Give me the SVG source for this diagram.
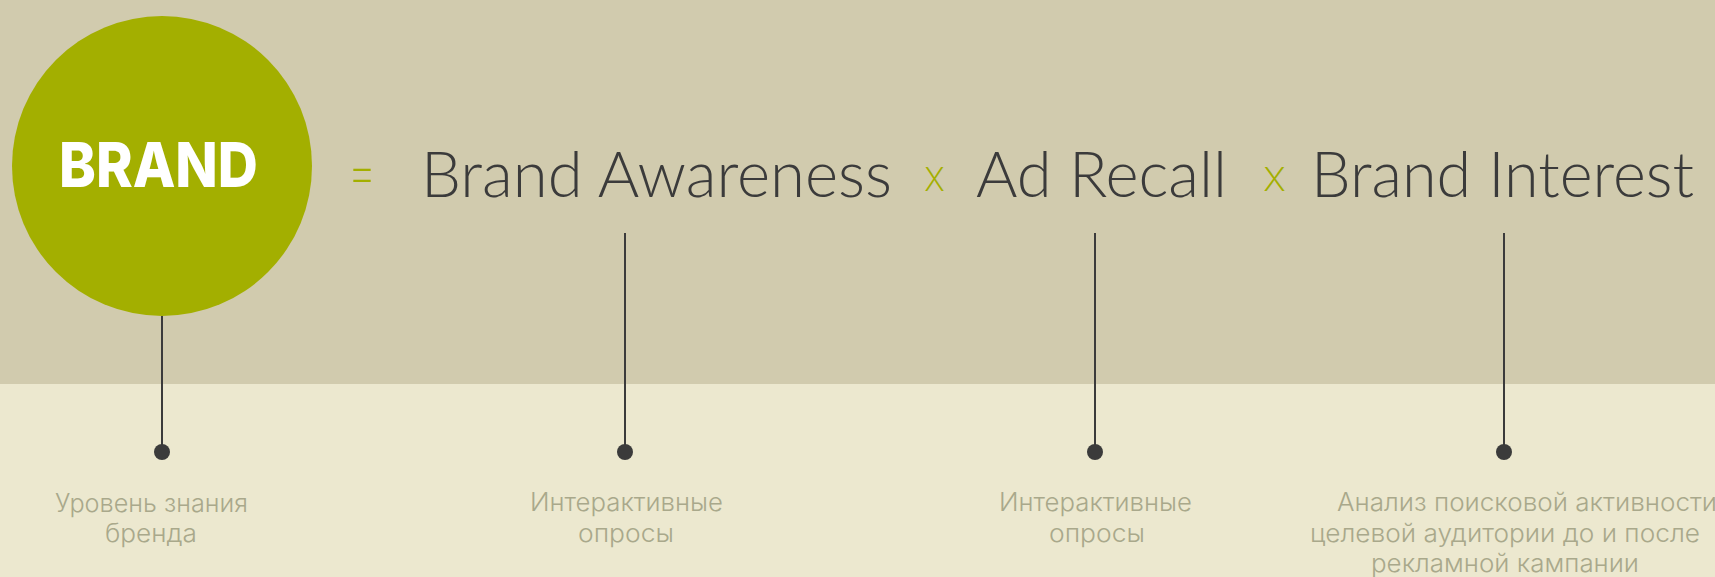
<svg xmlns="http://www.w3.org/2000/svg" width="1715" height="577" viewBox="0 0 1715 577">
  <style>
    .term { font-family: Lato, Inter, "Liberation Sans", sans-serif; font-weight: 300; font-size: 63px; fill: #3b3b3b; }
    .op { font-family: Inter, "Liberation Sans", sans-serif; font-weight: 200; font-size: 44px; fill: #a3af00; }
    .eq { font-family: Inter, "Liberation Sans", sans-serif; font-weight: 200; font-size: 56px; fill: #a3af00; }
    .brand { font-family: Inter, "Liberation Sans", sans-serif; font-weight: 800; font-size: 62px; fill: #ffffff; }
    .note { font-family: Inter, "Liberation Sans", sans-serif; font-weight: 300; font-size: 25px; fill: #a9a88b; }
    .link { stroke: #3b3b3b; stroke-width: 2; fill: none; marker-end: url(#dot); }
  </style>
  <defs>
    <marker id="dot" markerUnits="userSpaceOnUse" markerWidth="18" markerHeight="18" refX="9" refY="9" orient="auto">
      <circle cx="9" cy="9" r="8" fill="#3b3b3b"/>
    </marker>
  </defs>

  <!-- backdrop: upper band and lower band -->
  <rect x="0" y="0" width="1715" height="384" fill="#d1cbae"/>
  <rect x="0" y="384" width="1715" height="193" fill="#ece8cf"/>

  <!-- leader lines ending in dots -->
  <g id="connectors">
    <line class="link" x1="162" y1="316" x2="162" y2="452"/>
    <line class="link" x1="625" y1="233" x2="625" y2="452"/>
    <line class="link" x1="1095" y1="233" x2="1095" y2="452"/>
    <line class="link" x1="1504" y1="233" x2="1504" y2="452"/>
  </g>

  <g id="brand">
    <circle cx="162" cy="166" r="150" fill="#a3af00"/>
    <text class="brand" x="59" y="187" textLength="199" lengthAdjust="spacingAndGlyphs">BRAND</text>
  </g>

  <g id="operators">
    <text class="eq" x="347" y="191" textLength="30" lengthAdjust="spacingAndGlyphs">=</text>
    <text class="op" x="924" y="191" textLength="21" lengthAdjust="spacingAndGlyphs">x</text>
    <text class="op" x="1263" y="191" textLength="23" lengthAdjust="spacingAndGlyphs">x</text>
  </g>

  <g id="brand-awareness">
    <text class="term" x="421" y="197" textLength="471" lengthAdjust="spacingAndGlyphs">Brand Awareness</text>
  </g>
  <g id="ad-recall">
    <text class="term" x="976" y="197" textLength="251" lengthAdjust="spacingAndGlyphs">Ad Recall</text>
  </g>
  <g id="brand-interest">
    <text class="term" x="1311" y="197" textLength="383" lengthAdjust="spacingAndGlyphs">Brand Interest</text>
  </g>

  <g id="note-brand">
    <text class="note" x="55" y="512" textLength="193" lengthAdjust="spacingAndGlyphs">Уровень знания</text>
    <text class="note" x="105" y="542" textLength="92" lengthAdjust="spacingAndGlyphs">бренда</text>
  </g>
  <g id="note-awareness">
    <text class="note" x="530" y="511" textLength="193" lengthAdjust="spacingAndGlyphs">Интерактивные</text>
    <text class="note" x="578" y="542" textLength="96" lengthAdjust="spacingAndGlyphs">опросы</text>
  </g>
  <g id="note-recall">
    <text class="note" x="999" y="511" textLength="193" lengthAdjust="spacingAndGlyphs">Интерактивные</text>
    <text class="note" x="1049" y="542" textLength="96" lengthAdjust="spacingAndGlyphs">опросы</text>
  </g>
  <g id="note-interest">
    <text class="note" x="1337" y="511" textLength="380" lengthAdjust="spacingAndGlyphs">Анализ поисковой активности</text>
    <text class="note" x="1310" y="542" textLength="390" lengthAdjust="spacingAndGlyphs">целевой аудитории до и после</text>
    <text class="note" x="1371" y="572" textLength="268" lengthAdjust="spacingAndGlyphs">рекламной кампании</text>
  </g>
</svg>
